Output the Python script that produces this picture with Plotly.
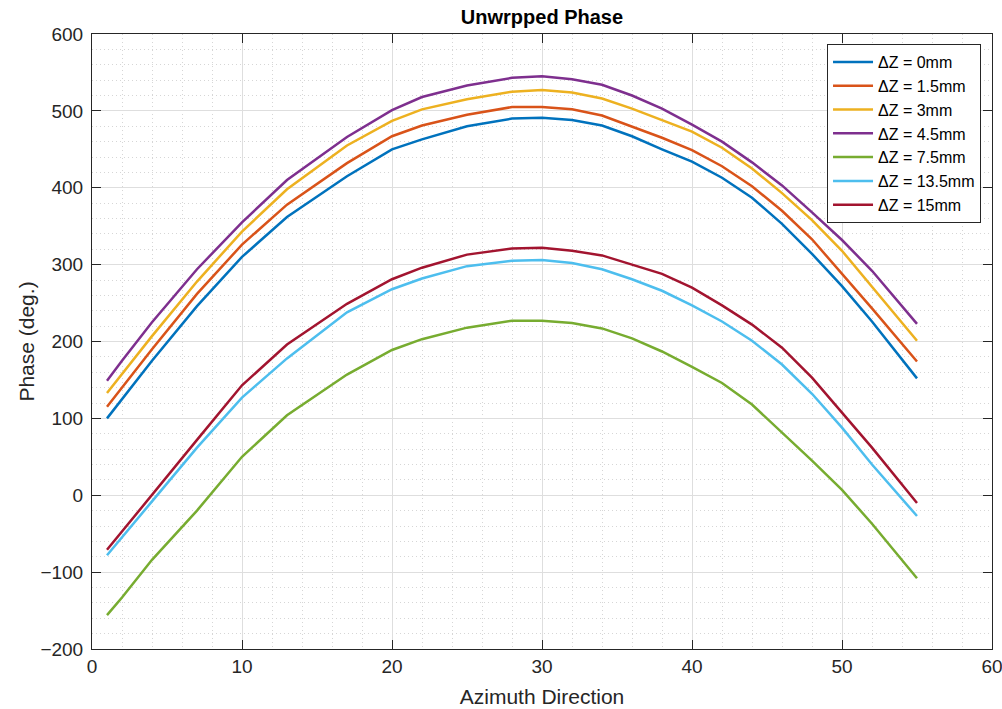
import plotly.graph_objects as go

x = [1, 2, 4, 7, 10, 13, 17, 20, 22, 25, 28, 30, 32, 34, 36, 38, 40, 42, 44, 46, 48, 50, 52, 55]

dz0 = [100, 125, 175, 246, 310, 362, 415, 450, 463, 480, 490, 491, 488, 481, 467, 450, 434, 413, 387, 353, 314, 272, 226, 152]
dz15 = [115, 140, 190, 262, 326, 378, 432, 467, 481, 495, 505, 505, 502, 494, 480, 465, 449, 428, 402, 370, 333, 288, 243, 174]
dz3 = [133, 158, 207, 278, 343, 398, 455, 487, 502, 515, 525, 527, 524, 516, 503, 488, 473, 452, 425, 393, 358, 318, 271, 201]
dz45 = [149, 175, 225, 294, 355, 410, 466, 501, 518, 533, 543, 545, 541, 534, 520, 503, 482, 460, 433, 403, 368, 332, 292, 223]
dz75 = [-156, -133, -84, -20, 50, 104, 157, 189, 203, 218, 227, 227, 224, 217, 204, 187, 167, 146, 118, 82, 45, 7, -37, -108]
dz135 = [-78, -55, -8, 62, 127, 178, 238, 268, 282, 298, 305, 306, 302, 294, 281, 266, 247, 226, 201, 170, 132, 88, 40, -27]
dz150 = [-71, -47, 0, 72, 143, 196, 249, 281, 296, 313, 321, 322, 318, 312, 300, 288, 270, 247, 222, 192, 153, 107, 62, -10]

names = ["\u0394Z = 0mm", "\u0394Z = 1.5mm", "\u0394Z = 3mm", "\u0394Z = 4.5mm",
         "\u0394Z = 7.5mm", "\u0394Z = 13.5mm", "\u0394Z = 15mm"]
series = [dz0, dz15, dz3, dz45, dz75, dz135, dz150]
colors = ["#0072BD", "#D95319", "#EDB120", "#7E2F8E", "#77AC30", "#4DBEEE", "#A2142F"]

FONT = "Liberation Sans, Arial, sans-serif"
TXT = "#262626"

fig = go.Figure()
for name, ys, c in zip(names, series, colors):
    fig.add_trace(go.Scatter(x=x, y=ys, mode="lines", name=name,
                             line=dict(color=c, width=2.5)))

axis_common = dict(
    showline=True, linecolor=TXT, linewidth=1, mirror="ticks",
    ticks="inside", ticklen=9, tickcolor=TXT, tickwidth=1,
    showgrid=True, gridcolor="#dedede", gridwidth=1.3,
    zeroline=False, automargin=False, ticklabeloverflow="allow",
    tickfont=dict(family=FONT, size=19, color=TXT),
)
minor_common = dict(showgrid=True, gridcolor="#d6d6d6", griddash="1px,3px", gridwidth=1, ticks="")

fig.update_xaxes(
    range=[0, 60], tick0=0, dtick=10,
    minor=dict(dtick=2, **minor_common),
    title=dict(text="Azimuth Direction", font=dict(family=FONT, size=21, color=TXT), standoff=13),
    **axis_common,
)
fig.update_yaxes(
    range=[-200, 600], tick0=-200, dtick=100,
    minor=dict(dtick=20, **minor_common),
    title=dict(text="Phase (deg.)", font=dict(family=FONT, size=21, color=TXT), standoff=0),
    ticklabelstandoff=4,
    **axis_common,
)

fig.update_layout(
    width=1002, height=709,
    margin=dict(l=92, r=10, t=34, b=60),
    paper_bgcolor="white", plot_bgcolor="white",
    title=dict(text="<b>Unwrpped Phase</b>", x=0.5, xref="paper", xanchor="center",
               y=1 - 17 / 709, yref="container", yanchor="middle",
               font=dict(family=FONT, size=20, color="black")),
    legend=dict(x=0.9878, y=0.9837, xanchor="right", yanchor="top",
                bgcolor="white", bordercolor=TXT, borderwidth=1,
                font=dict(family=FONT, size=16, color="black"),
                itemwidth=40, tracegroupgap=0),
    showlegend=True,
)

fig.write_html("out.html", config={"displayModeBar": False},
               post_script="document.body.style.margin='0';document.body.style.padding='0';")
